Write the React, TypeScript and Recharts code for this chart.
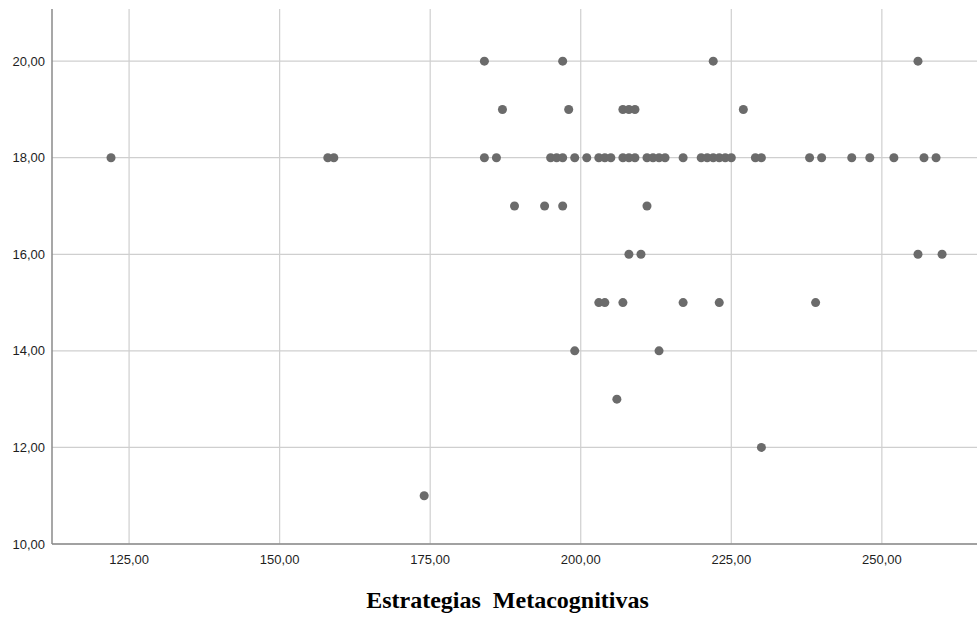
import {
  ScatterChart,
  Scatter,
  XAxis,
  YAxis,
  ZAxis,
  CartesianGrid,
} from "recharts";

// Estrategias Metacognitivas (x) vs. score (y), one entry per case
const estrategias = [
  184, 197, 222, 256,
  187, 198, 207, 208, 209, 227,
  122, 158, 159, 184, 186, 195, 196, 197, 199, 201, 203, 204, 205, 207, 208, 209,
  211, 212, 213, 214, 217, 220, 221, 222, 223, 224, 225, 229, 230, 238, 240, 245,
  248, 252, 257, 259,
  189, 194, 197, 211,
  208, 210, 256, 260,
  203, 204, 207, 217, 223, 239,
  199, 213,
  206,
  230,
  174,
];

const puntaje = [
  20, 20, 20, 20,
  19, 19, 19, 19, 19, 19,
  18, 18, 18, 18, 18, 18, 18, 18, 18, 18, 18, 18, 18, 18, 18, 18,
  18, 18, 18, 18, 18, 18, 18, 18, 18, 18, 18, 18, 18, 18, 18, 18,
  18, 18, 18, 18,
  17, 17, 17, 17,
  16, 16, 16, 16,
  15, 15, 15, 15, 15, 15,
  14, 14,
  13,
  12,
  11,
];

const xTicks = [125, 150, 175, 200, 225, 250];
const yTicks = [10, 12, 14, 16, 18, 20];

const data = estrategias.map((x, i) => ({ x, y: puntaje[i] }));

const fmt = (v: number) => v.toFixed(2).replace(".", ",");

const tickStyle = { fontSize: 13, fill: "#1e1e1e", fontFamily: "Liberation Sans, Arial, sans-serif" };

function AxisTitle({ viewBox }: any) {
  const cx = viewBox.x + viewBox.width / 2 - 7;
  return (
    <text
      x={cx}
      y={viewBox.y + 64}
      textAnchor="middle"
      fontFamily="Liberation Serif, Times New Roman, serif"
      fontWeight="bold"
      fontSize={24}
      fill="#000"
      style={{ whiteSpace: "pre" }}
    >
      {"Estrategias  Metacognitivas"}
    </text>
  );
}

export default function App() {
  return (
    <div style={{ position: "absolute", left: 0, top: 0, width: 977, height: 618, background: "#fff" }}>
      <ScatterChart width={977} height={618} margin={{ top: 9, right: 0, bottom: 44, left: 0 }}>
        {/* syncWithTicks: lines only at tick values, no frame on top / right */}
        <CartesianGrid stroke="#cfcfcf" strokeWidth={1.2} syncWithTicks />
        <XAxis
          type="number"
          dataKey="x"
          domain={[112.2, 265.8]}
          ticks={xTicks}
          tickFormatter={fmt}
          tick={tickStyle}
          tickLine={false}
          tickSize={0}
          tickMargin={11}
          height={30}
          axisLine={{ stroke: "#8a8a8a", strokeWidth: 1.5 }}
          allowDataOverflow
          label={<AxisTitle />}
        />
        <YAxis
          type="number"
          dataKey="y"
          domain={[10, 21.08]}
          ticks={yTicks}
          tickFormatter={fmt}
          tick={tickStyle}
          tickLine={false}
          tickSize={0}
          tickMargin={7}
          width={52}
          axisLine={{ stroke: "#8a8a8a", strokeWidth: 1.5 }}
          allowDataOverflow
        />
        <ZAxis range={[80, 80]} />
        <Scatter data={data} fill="#6b6b6b" isAnimationActive={false} />
      </ScatterChart>
    </div>
  );
}
